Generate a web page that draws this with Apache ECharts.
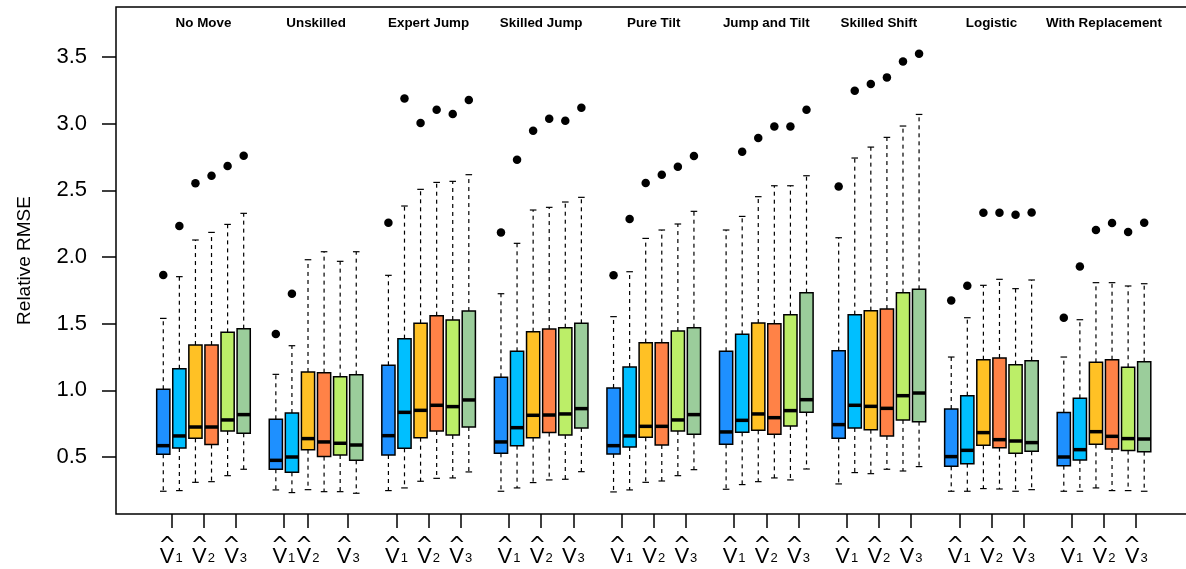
<!DOCTYPE html>
<html><head><meta charset="utf-8">
<script src="https://cdn.jsdelivr.net/npm/echarts@6/dist/echarts.min.js"></script>
<style>html,body{margin:0;padding:0;background:#fff}#chart{width:1186px;height:569px}</style>
</head><body><div id="chart"></div>
<script>
// ---- data ----
const groups = ['No Move','Unskilled','Expert Jump','Skilled Jump','Pure Tilt','Jump and Tilt','Skilled Shift','Logistic','With Replacement'];
const estimatorSubscripts = ['1','2','3'];
const yTickValues = [0.5, 1.0, 1.5, 2.0, 2.5, 3.0, 3.5];

const whiskerLow = [
  [0.243,0.248,0.310,0.315,0.360,0.408],
  [0.253,0.233,0.255,0.240,0.240,0.228],
  [0.248,0.268,0.318,0.340,0.343,0.388],
  [0.243,0.268,0.308,0.328,0.333,0.390],
  [0.238,0.253,0.310,0.320,0.360,0.405],
  [0.258,0.293,0.315,0.343,0.328,0.410],
  [0.298,0.383,0.375,0.408,0.395,0.428],
  [0.243,0.243,0.263,0.260,0.243,0.255],
  [0.243,0.243,0.268,0.248,0.248,0.243]
];
const quartile1 = [
  [0.520,0.568,0.640,0.593,0.695,0.678],
  [0.408,0.385,0.555,0.503,0.515,0.475],
  [0.515,0.565,0.645,0.695,0.665,0.725],
  [0.528,0.585,0.645,0.683,0.665,0.718],
  [0.523,0.575,0.648,0.590,0.695,0.670],
  [0.595,0.685,0.700,0.670,0.733,0.835],
  [0.640,0.718,0.705,0.658,0.778,0.765],
  [0.430,0.450,0.588,0.570,0.528,0.543],
  [0.435,0.478,0.595,0.560,0.548,0.540]
];
const medians = [
  [0.585,0.658,0.725,0.725,0.778,0.818],
  [0.475,0.500,0.638,0.613,0.603,0.590],
  [0.660,0.835,0.850,0.888,0.878,0.928],
  [0.613,0.720,0.813,0.815,0.823,0.863],
  [0.585,0.658,0.730,0.730,0.778,0.818],
  [0.688,0.775,0.823,0.795,0.848,0.930],
  [0.743,0.888,0.880,0.865,0.960,0.980],
  [0.503,0.550,0.683,0.630,0.620,0.608],
  [0.500,0.555,0.690,0.655,0.638,0.635]
];
const quartile3 = [
  [1.008,1.163,1.340,1.340,1.435,1.463],
  [0.783,0.830,1.138,1.133,1.103,1.118],
  [1.188,1.388,1.503,1.560,1.528,1.595],
  [1.098,1.293,1.440,1.460,1.470,1.503],
  [1.018,1.175,1.358,1.358,1.445,1.470],
  [1.293,1.420,1.505,1.500,1.568,1.733],
  [1.298,1.568,1.598,1.610,1.733,1.758],
  [0.860,0.960,1.230,1.243,1.193,1.223],
  [0.833,0.940,1.210,1.230,1.173,1.215]
];
const whiskerHigh = [
  [1.540,1.853,2.128,2.185,2.245,2.328],
  [1.120,1.335,1.980,2.040,1.968,2.040],
  [1.863,2.383,2.508,2.560,2.568,2.618],
  [1.725,2.103,2.353,2.373,2.413,2.448],
  [1.553,1.890,2.140,2.203,2.248,2.343],
  [2.203,2.305,2.453,2.535,2.535,2.610],
  [2.145,2.743,2.825,2.898,2.983,3.070],
  [1.250,1.545,1.788,1.833,1.763,1.828],
  [1.250,1.530,1.808,1.808,1.783,1.800]
];
const outliers = [
  [1.865,2.233,2.553,2.610,2.683,2.760],
  [1.423,1.725,null,null,null,null],
  [2.258,3.190,3.005,3.105,3.073,3.178],
  [2.185,2.730,2.948,3.038,3.023,3.120],
  [1.863,2.285,2.555,2.618,2.678,2.758],
  [null,2.790,2.893,2.980,2.980,3.105],
  [2.530,3.248,3.298,3.348,3.468,3.525],
  [1.675,1.785,2.333,2.333,2.318,2.335],
  [1.545,1.930,2.203,2.255,2.188,2.258]
];

// ---- styles / layout ----
const boxColors = ['#1E90FF','#00BFFF','#FFC125','#FF8247','#BCEE68','#9BCD9B'];
const FONT = 'Liberation Sans, Arial, Helvetica, sans-serif';
const SLOTS = 7;          // 6 boxes + 1 gap per group
const BOX_W = 0.82;       // box width in slot units

const boxData = [];
const outlierData = [];
groups.forEach((g, gi) => {
  for (let k = 0; k < 6; k++) {
    const pos = gi * SLOTS + k + 1;
    boxData.push([pos, whiskerLow[gi][k], quartile1[gi][k], medians[gi][k], quartile3[gi][k], whiskerHigh[gi][k], k]);
    if (outliers[gi][k] != null) outlierData.push([pos, outliers[gi][k]]);
  }
});

const tickPos = [];
groups.forEach((g, gi) => {
  const base = gi * SLOTS;
  tickPos.push(base + 1.5);
  tickPos.push(gi === 1 ? base + 3 : base + 3.5);
  tickPos.push(base + 5.5);
});
const groupCenters = groups.map((g, gi) => gi * SLOTS + 3.5);

const X_MIN = -1.94, X_MAX = 65.47;

function tickLabel(v) {
  let idx = 0;
  for (let k = 0; k < tickPos.length; k++) if (Math.abs(tickPos[k] - v) < 1e-6) idx = k;
  return '{h|^}\n{v|V}{s|' + estimatorSubscripts[idx % 3] + '}';
}

function renderItem(params, api) {
  const x = api.value(0);
  const lo = api.coord([x, api.value(1)]);
  const q1 = api.coord([x, api.value(2)]);
  const md = api.coord([x, api.value(3)]);
  const q3 = api.coord([x, api.value(4)]);
  const hi = api.coord([x, api.value(5)]);
  const color = boxColors[api.value(6)];
  const half = api.size([BOX_W, 0])[0] / 2;
  const staple = half * 0.5;
  const cx = md[0];
  const dashStyle = { stroke: '#000', lineWidth: 1.2, lineDash: [4, 4] };
  const solid = { stroke: '#000', lineWidth: 1.2 };
  return {
    type: 'group',
    children: [
      { type: 'line', shape: { x1: cx, y1: q3[1], x2: cx, y2: hi[1] }, style: dashStyle },
      { type: 'line', shape: { x1: cx, y1: q1[1], x2: cx, y2: lo[1] }, style: dashStyle },
      { type: 'line', shape: { x1: cx - staple, y1: hi[1], x2: cx + staple, y2: hi[1] }, style: solid },
      { type: 'line', shape: { x1: cx - staple, y1: lo[1], x2: cx + staple, y2: lo[1] }, style: solid },
      { type: 'rect', shape: { x: cx - half, y: q3[1], width: half * 2, height: q1[1] - q3[1] },
        style: { fill: color, stroke: '#000', lineWidth: 1.5 } },
      { type: 'line', shape: { x1: cx - half, y1: md[1], x2: cx + half, y2: md[1] },
        style: { stroke: '#000', lineWidth: 3.5 } }
    ]
  };
}

const chart = echarts.init(document.getElementById('chart'), null, { renderer: 'canvas' });
chart.setOption({
  animation: false,
  backgroundColor: '#fff',
  grid: { left: 116, right: -14, top: 7, bottom: 55, show: true, borderColor: '#000', borderWidth: 1.5,
          backgroundColor: 'transparent', outerBoundsMode: 'none' },
  xAxis: {
    type: 'value', min: X_MIN, max: X_MAX, position: 'bottom',
    axisLine: { show: false, onZero: false },
    splitLine: { show: false },
    axisTick: { show: true, customValues: tickPos, length: 14, lineStyle: { color: '#000', width: 1.5 } },
    axisLabel: {
      show: true, customValues: tickPos, margin: 31, color: '#000',
      formatter: tickLabel,
      rich: {
        h: { fontFamily: 'DejaVu Sans', fontSize: 21, color: '#000', lineHeight: 4, padding: [0, 8, 0, 0] },
        v: { fontFamily: FONT, fontSize: 22, color: '#000', lineHeight: 16 },
        s: { fontFamily: FONT, fontSize: 13, color: '#000', lineHeight: 8, verticalAlign: 'bottom', padding: [0, 0, 0, 1] }
      }
    }
  },
  yAxis: {
    type: 'value', min: 0.0724, max: 3.876,
    name: 'Relative RMSE', nameLocation: 'middle', nameGap: 82,
    nameTextStyle: { fontFamily: FONT, fontSize: 19, color: '#000' },
    axisLine: { show: false, onZero: false },
    splitLine: { show: false },
    axisTick: { show: true, customValues: yTickValues, length: 14, lineStyle: { color: '#000', width: 1.5 } },
    axisLabel: { show: true, customValues: yTickValues, margin: 29, color: '#000', fontFamily: FONT, fontSize: 22,
                 formatter: v => v.toFixed(1) }
  },
  series: [
    { type: 'custom', renderItem: renderItem, data: boxData, xAxisIndex: 0, yAxisIndex: 0,
      encode: { x: 0, y: [1, 2, 3, 4, 5] }, z: 2 },
    { type: 'scatter', data: outlierData, xAxisIndex: 0, yAxisIndex: 0, symbol: 'circle', symbolSize: 8.5,
      itemStyle: { color: '#000', opacity: 1 }, z: 3 }
  ]
});

// group titles, placed through the x scale
chart.setOption({
  graphic: groupCenters.map((c, i) => ({
    type: 'text',
    x: chart.convertToPixel({ xAxisIndex: 0 }, c),
    y: 23,
    style: { text: groups[i], font: 'bold 13.4px ' + FONT, fill: '#000', align: 'center', verticalAlign: 'middle' }
  }))
});
</script>
</body></html>
